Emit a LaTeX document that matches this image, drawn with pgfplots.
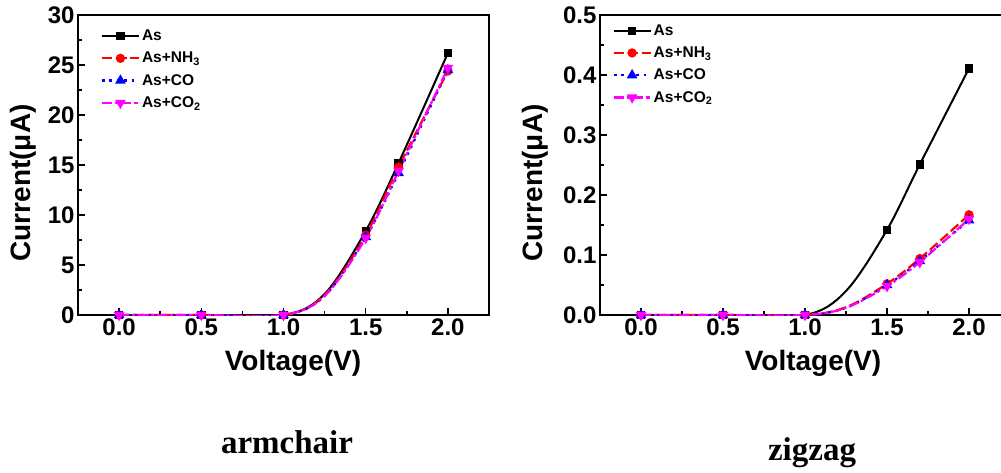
\documentclass[border=0pt]{standalone}
\usepackage{pgfplots}
\pgfplotsset{compat=1.18}
\usepackage{fontspec}
\setmainfont{Liberation Sans}
\newfontfamily\serifb{Liberation Serif}
\definecolor{mag}{RGB}{255,0,255}
\definecolor{rd}{RGB}{255,0,0}
\definecolor{bl}{RGB}{0,0,255}

\pgfplotsset{
  myax/.style={
    scale only axis, height=300pt,
    xmin=-0.25, xmax=2.25,
    xtick={0,0.5,1,1.5,2}, xticklabels={0.0,0.5,1.0,1.5,2.0},
    minor x tick num=1, minor y tick num=1,
    tick pos=left, tick align=inside,
    major tick length=7pt, minor tick length=4pt,
    tick style={black, line width=1.5pt},
    axis line style={line width=2pt},
    ticklabel style={font=\fontsize{24}{24}\selectfont\bfseries},
    legend style={draw=none, fill=none, font=\fontsize{15.5}{18}\selectfont\bfseries,
      cells={anchor=west}, row sep=6pt, inner sep=0pt},
    legend cell align=left,
    legend image code/.code={\draw[##1, mark indices={2}] plot coordinates {(0pt,0pt) (18.5pt,0pt) (37pt,0pt)};},
  },
  sAs/.style={black, line width=2pt, smooth, tension=0.55, mark=square*, mark size=3.2pt, mark options={solid}, mark indices={1,2,3,5,6,7}},
  sNH/.style={rd, line width=2.2pt, smooth, tension=0.55, dash pattern=on 10pt off 4pt, mark=*, mark size=3.5pt, mark options={solid}, mark indices={1,2,3,5,6,7}},
  sCO/.style={bl, line width=2.2pt, smooth, tension=0.55, dash pattern=on 2.5pt off 5pt, mark=triangle*, mark size=4pt, mark options={solid}, mark indices={1,2,3,5,6,7}},
  sCOt/.style={mag, line width=2.2pt, smooth, tension=0.55, dash pattern=on 10pt off 3pt on 3pt off 3pt, mark=triangle*, mark size=4pt, mark options={solid, rotate=180}, mark indices={1,2,3,5,6,7}},
}

\begin{document}
\begin{tikzpicture}
% ---------- armchair ----------
\begin{axis}[myax, at={(78pt,157pt)}, anchor=south west, width=411pt,
  ymin=0, ymax=30, ytick={0,5,10,15,20,25,30},
  yticklabels={0,5,10,15,20,25,30},
  legend style={at={(0.055,0.957)}, anchor=north west}]
\addplot[sAs] coordinates {(0,0) (0.5,0) (1,0) (1.25,2.1) (1.5,8.4) (1.7,15.2) (2,26.2)};
\addlegendentry{As}
\addplot[sNH] coordinates {(0,0) (0.5,0) (1,0) (1.25,2.0) (1.5,8.0) (1.7,14.8) (2,24.4)};
\addlegendentry{As+NH\textsubscript{3}}
\addplot[sCO] coordinates {(0,0) (0.5,0) (1,0) (1.25,1.9) (1.5,7.8) (1.7,14.2) (2,24.5)};
\addlegendentry{As+CO}
\addplot[sCOt] coordinates {(0,0) (0.5,0) (1,0) (1.25,1.9) (1.5,7.7) (1.7,14.4) (2,24.7)};
\addlegendentry{As+CO\textsubscript{2}}
\end{axis}
% ---------- zigzag ----------
\begin{axis}[myax, at={(600pt,157pt)}, anchor=south west, width=410pt,
  ymin=0, ymax=0.5, ytick={0,0.1,0.2,0.3,0.4,0.5},
  yticklabels={0.0,0.1,0.2,0.3,0.4,0.5},
  legend style={at={(0.03,0.975)}, anchor=north west}]
\addplot[sAs] coordinates {(0,0) (0.5,0) (1,0) (1.25,0.040) (1.5,0.142) (1.7,0.251) (2,0.411)};
\addlegendentry{As}
\addplot[sNH] coordinates {(0,0) (0.5,0) (1,0) (1.25,0.013) (1.5,0.052) (1.7,0.094) (2,0.167)};
\addlegendentry{As+NH\textsubscript{3}}
\addplot[sCO] coordinates {(0,0) (0.5,0) (1,0) (1.25,0.012) (1.5,0.050) (1.7,0.090) (2,0.158)};
\addlegendentry{As+CO}
\addplot[sCOt] coordinates {(0,0) (0.5,0) (1,0) (1.25,0.012) (1.5,0.048) (1.7,0.088) (2,0.160)};
\addlegendentry{As+CO\textsubscript{2}}
\end{axis}
% ---------- labels ----------
\node[rotate=90, font=\fontsize{28}{28}\selectfont\bfseries] at (23.5pt,289pt) {Current(μA)};
\node[rotate=90, font=\fontsize{28}{28}\selectfont\bfseries] at (535pt,289pt) {Current(μA)};
\node[anchor=base, font=\fontsize{28}{28}\selectfont\bfseries, inner sep=0pt] at (293pt,102pt) {Voltage(V)};
\node[anchor=base, font=\fontsize{28}{28}\selectfont\bfseries, inner sep=0pt] at (813pt,102pt) {Voltage(V)};
\node[anchor=base, font=\fontsize{33}{33}\selectfont\serifb\bfseries, inner sep=0pt] at (287pt,19pt) {armchair};
\node[anchor=base, font=\fontsize{33}{33}\selectfont\serifb\bfseries, inner sep=0pt] at (812pt,12pt) {zigzag};
\pgfresetboundingbox
\useasboundingbox (0pt,0pt) rectangle (1001pt,472pt);
\end{tikzpicture}
\end{document}
